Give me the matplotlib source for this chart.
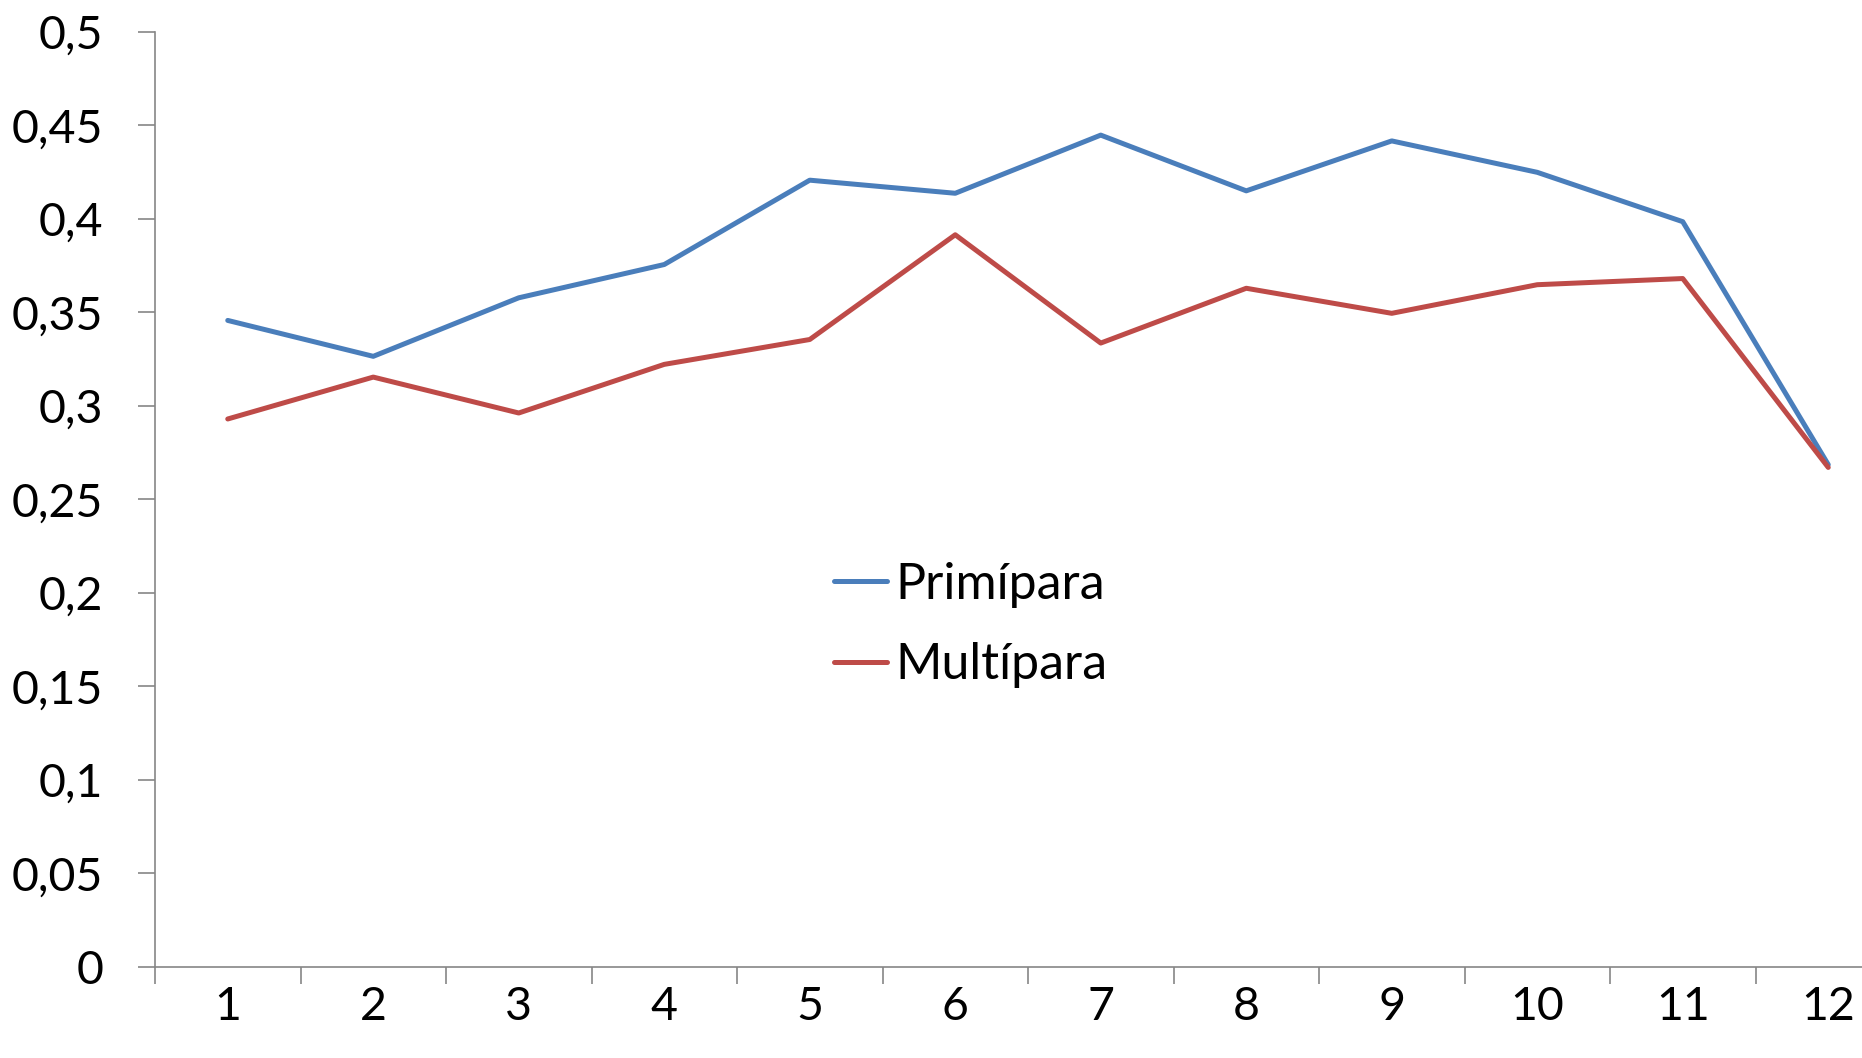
import numpy as np
import matplotlib.pyplot as plt
from matplotlib.ticker import FixedLocator, FuncFormatter

# categories and series
months = [1, 2, 3, 4, 5, 6, 7, 8, 9, 10, 11, 12]
primipara = [0.3456, 0.3264, 0.3577, 0.3755, 0.4206, 0.4136, 0.4447, 0.4149, 0.4416, 0.4248, 0.3984, 0.2685]
multipara = [0.2929, 0.3153, 0.2961, 0.3221, 0.3354, 0.3914, 0.3335, 0.3628, 0.3494, 0.3647, 0.3680, 0.2670]
y_ticks = [0, 0.05, 0.1, 0.15, 0.2, 0.25, 0.3, 0.35, 0.4, 0.45, 0.5]

plt.rcParams['font.family'] = ['Lato', 'DejaVu Sans']

W, H = 1862, 1058
fig = plt.figure(figsize=(W / 100, H / 100), dpi=100)
# the category axis runs past the right edge of the picture, as in the original
ax = fig.add_axes([155 / W, 1 - 966.7 / H, 12 * 145.5 / W, (966.7 - 31.7) / H])

ax.plot(months, primipara, color='#4A7EBB', lw=3.6, label='Primípara', solid_capstyle='round')
ax.plot(months, multipara, color='#BE4B48', lw=3.6, label='Multípara', solid_capstyle='round')

ax.set_xlim(0.5, 12.5)
ax.set_ylim(0, 0.5)

gray = '#868686'
for s in ['top', 'right']:
    ax.spines[s].set_visible(False)
for s in ['left', 'bottom']:
    ax.spines[s].set_color(gray)
    ax.spines[s].set_linewidth(1.2)

ax.set_yticks(y_ticks)
ax.yaxis.set_major_formatter(FuncFormatter(lambda v, p: f"{v:g}".replace('.', ',')))
ax.tick_params(axis='y', length=12.2, width=1.2, color=gray, pad=25, labelsize=33.5)

ax.set_xticks(months)
ax.set_xticklabels([str(m) for m in months])
ax.xaxis.set_minor_locator(FixedLocator(np.arange(0.5, 12.6, 1)))
ax.tick_params(axis='x', which='major', length=0, pad=14, labelsize=33.5)
ax.tick_params(axis='x', which='minor', length=12.2, width=1.2, color=gray)

fig.legend(loc='center left', bbox_to_anchor=(834 / W, 1 - 625 / H), frameon=False,
           fontsize=36, handlelength=1.05, handletextpad=0.18, labelspacing=0.7,
           borderaxespad=0, borderpad=0)

fig.savefig('out.png', dpi=100)
